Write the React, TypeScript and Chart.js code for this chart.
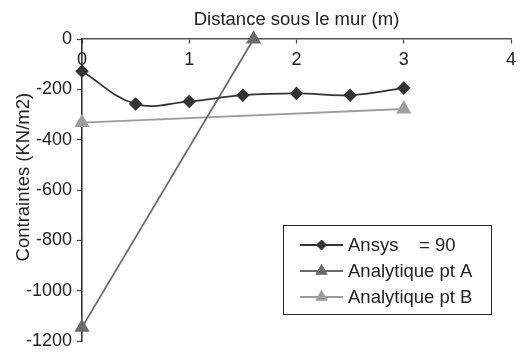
import React, { useEffect, useRef } from 'react';
import { Chart, registerables } from 'chart.js';
import { drawPoint } from 'chart.js/helpers';

Chart.register(...registerables);

// ---- data ----
const ansysX = [0, 0.5, 1, 1.5, 2, 2.5, 3];
const ansysY = [-128, -258, -248, -223, -216, -223, -195];
const ptAX = [0, 1.6];
const ptAY = [-1145, 0];
const ptBX = [0, 3];
const ptBY = [-332, -278];
const seriesNames = ['Ansys    = 90', 'Analytique pt A', 'Analytique pt B'];
const xTitle = 'Distance sous le mur (m)';
const yTitle = 'Contraintes (KN/m2)';
const xMin = 0;
const xMax = 4;
const xStep = 1;
const yMin = -1200;
const yMax = 0;
const yStep = 200;

const FONT = "'Liberation Sans', Arial, Helvetica, sans-serif";
const TEXT = '#222';

const toPts = (xs: number[], ys: number[]) => xs.map((x, i) => ({ x, y: ys[i] }));

const yTitlePlugin = {
  id: 'yTitlePlugin',
  afterDraw(chart: any) {
    const ctx = chart.ctx as CanvasRenderingContext2D;
    const ca = chart.chartArea;
    ctx.save();
    ctx.translate(24, (ca.top + ca.bottom) / 2 - 13);
    ctx.rotate(-Math.PI / 2);
    ctx.fillStyle = TEXT;
    ctx.font = `18.5px ${FONT}`;
    ctx.textAlign = 'center';
    ctx.textBaseline = 'middle';
    ctx.fillText(yTitle, 0, 0);
    ctx.restore();
  },
};

const boxLegend = {
  id: 'boxLegend',
  afterDraw(chart: any) {
    const ctx = chart.ctx as CanvasRenderingContext2D;
    const ca = chart.chartArea;
    const bx = ca.left + 201;
    const by = ca.top + 186;
    const bw = 208;
    const bh = 89;
    ctx.save();
    ctx.strokeStyle = '#222';
    ctx.lineWidth = 1;
    ctx.strokeRect(Math.round(bx) + 0.5, Math.round(by) + 0.5, bw, bh);
    const rows = [20, 46, 72];
    chart.data.datasets.forEach((ds: any, i: number) => {
      const y = by + rows[i];
      const x1 = bx + 17;
      const x2 = bx + 60;
      ctx.strokeStyle = ds.borderColor;
      ctx.lineWidth = ds.borderWidth;
      ctx.beginPath();
      ctx.moveTo(x1, y);
      ctx.lineTo(x2, y);
      ctx.stroke();
      ctx.fillStyle = ds.pointBackgroundColor;
      ctx.strokeStyle = ds.pointBorderColor;
      ctx.lineWidth = 1;
      drawPoint(ctx, { pointStyle: ds.pointStyle, radius: ds.pointRadius - 0.5, rotation: 0, borderWidth: 1 } as any, (x1 + x2) / 2, y);
      ctx.fillStyle = TEXT;
      ctx.font = `18.5px ${FONT}`;
      ctx.textBaseline = 'middle';
      ctx.textAlign = 'left';
      ctx.fillText(ds.label, bx + 65, y + 1);
    });
    ctx.restore();
  },
};

export default function App() {
  const ref = useRef<HTMLCanvasElement>(null);
  useEffect(() => {
    if (!ref.current) return;
    const chart = new Chart(ref.current, {
      type: 'line',
      data: {
        datasets: [
          {
            label: seriesNames[0],
            data: toPts(ansysX, ansysY),
            borderColor: '#333',
            backgroundColor: '#333',
            pointBackgroundColor: '#333',
            pointBorderColor: '#333',
            pointStyle: 'rectRot',
            pointRadius: 5.5,
            borderWidth: 1.8,
            tension: 0.4,
            clip: false,
          },
          {
            label: seriesNames[1],
            data: toPts(ptAX, ptAY),
            borderColor: '#6a6a6a',
            backgroundColor: '#6a6a6a',
            pointBackgroundColor: '#6a6a6a',
            pointBorderColor: '#6a6a6a',
            pointStyle: 'triangle',
            pointRadius: 7,
            borderWidth: 1.8,
            tension: 0,
            clip: false,
          },
          {
            label: seriesNames[2],
            data: toPts(ptBX, ptBY),
            borderColor: '#9d9d9d',
            backgroundColor: '#9d9d9d',
            pointBackgroundColor: '#9d9d9d',
            pointBorderColor: '#9d9d9d',
            pointStyle: 'triangle',
            pointRadius: 7,
            borderWidth: 1.8,
            tension: 0,
            clip: false,
          },
        ],
      } as any,
      options: {
        responsive: false,
        animation: false,
        events: [],
        layout: { padding: { left: 0, top: 0, right: 18, bottom: 11 } },
        plugins: { legend: { display: false }, tooltip: { enabled: false }, title: { display: false } },
        scales: {
          x: {
            type: 'linear',
            position: { y: 0 } as any,
            min: xMin,
            max: xMax,
            ticks: { stepSize: xStep, color: TEXT, font: { family: FONT, size: 18 }, padding: 6, maxRotation: 0 },
            grid: { display: true, drawOnChartArea: false, drawTicks: true, tickLength: 4, color: '#444', tickWidth: 1.2 },
            border: { display: true, color: '#555', width: 1.6 },
          },
          x2: {
            type: 'linear',
            axis: 'x',
            position: 'top',
            min: xMin,
            max: xMax,
            ticks: { display: false },
            grid: { display: false },
            border: { display: false },
            title: { display: true, text: xTitle, color: TEXT, font: { family: FONT, size: 18.5 }, padding: { top: 9, bottom: 0 } },
            afterFit: (s: any) => { s.height = 39; },
          },
          y: {
            type: 'linear',
            position: 'left',
            min: yMin,
            max: yMax,
            ticks: { stepSize: yStep, color: TEXT, font: { family: FONT, size: 18 }, padding: 5, callback: (v: any) => String(v) },
            grid: { display: true, drawOnChartArea: false, drawTicks: true, tickLength: 5, color: '#444', tickWidth: 1.2 },
            border: { display: true, color: '#333', width: 1.6 },
            title: { display: false },
            afterFit: (s: any) => { s.width = 82; },
          },
        } as any,
      },
      plugins: [boxLegend, yTitlePlugin],
    });
    return () => chart.destroy();
  }, []);
  return (
    <div style={{ position: 'absolute', left: 0, top: 0, width: 529, height: 357, background: '#fff' }}>
      <canvas ref={ref} width={529} height={357} />
    </div>
  );
}
